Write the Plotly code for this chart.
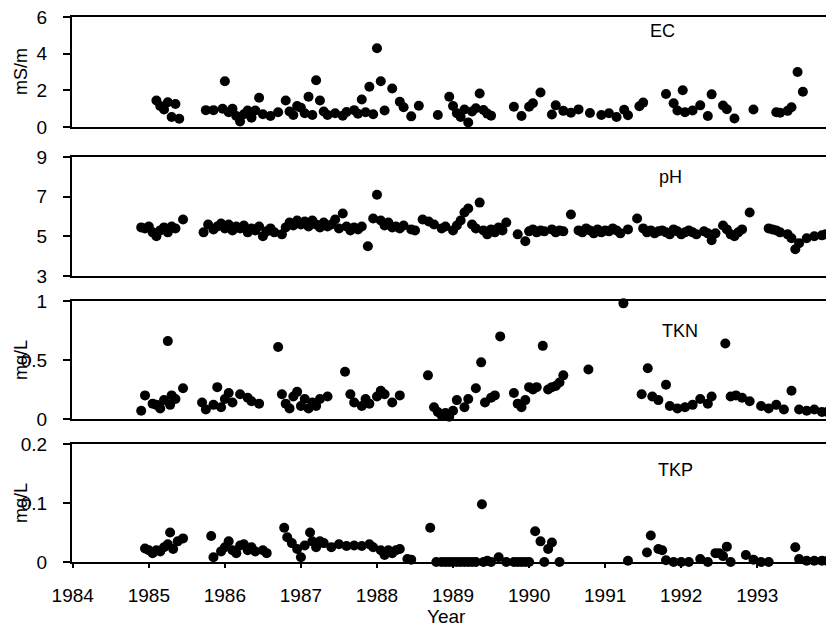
import plotly.graph_objects as go

# ---------------- data ----------------
ec_year = [1985.10, 1985.15, 1985.20, 1985.25, 1985.30, 1985.35, 1985.40,
           1985.75, 1985.85, 1986.00, 1985.97, 1986.05, 1986.10, 1986.15, 1986.20,
           1986.25, 1986.30, 1986.35, 1986.40, 1986.45, 1986.50, 1986.60, 1986.70,
           1986.80, 1986.85, 1986.90, 1986.95, 1987.00, 1987.05, 1987.10, 1987.15,
           1987.20, 1987.25, 1987.30, 1987.35, 1987.45, 1987.55, 1987.60, 1987.70,
           1987.75, 1987.80, 1987.85, 1987.90, 1987.95, 1988.00, 1988.05, 1988.10,
           1988.20, 1988.30, 1988.35, 1988.45, 1988.55, 1988.80, 1988.95, 1989.00,
           1989.05, 1989.10, 1989.15, 1989.20, 1989.25, 1989.30, 1989.35, 1989.40,
           1989.45, 1989.50, 1989.80, 1989.90, 1990.00, 1990.05, 1990.15, 1990.30,
           1990.35, 1990.45, 1990.55, 1990.65, 1990.80, 1990.95, 1991.05, 1991.15,
           1991.25, 1991.30, 1991.45, 1991.50, 1991.80, 1991.90, 1991.95, 1992.02,
           1992.05, 1992.15, 1992.25, 1992.35, 1992.40, 1992.55, 1992.60, 1992.70,
           1992.95, 1993.25, 1993.30, 1993.40, 1993.45, 1993.53, 1993.60]
ec_val = [1.45, 1.15, 0.95, 1.35, 0.55, 1.25, 0.45,
          0.92, 0.92, 2.50, 1.00, 0.80, 1.00, 0.60, 0.30,
          0.70, 0.90, 0.50, 0.90, 1.60, 0.70, 0.60, 0.80,
          1.45, 0.85, 0.65, 1.15, 1.05, 0.75, 1.65, 0.65,
          2.55, 1.45, 0.85, 0.65, 0.75, 0.62, 0.82, 0.92,
          0.72, 1.50, 0.80, 2.20, 0.70, 4.30, 2.50, 0.90,
          2.10, 1.38, 1.08, 0.58, 1.16, 0.65, 1.65, 1.15,
          0.75, 0.55, 0.95, 0.25, 0.85, 1.02, 1.83, 0.93,
          0.73, 0.62, 1.10, 0.60, 1.10, 1.30, 1.88, 0.68,
          1.18, 0.88, 0.78, 0.96, 0.76, 0.65, 0.75, 0.55,
          0.94, 0.64, 1.13, 1.33, 1.80, 1.30, 0.90, 2.00,
          0.80, 0.90, 1.18, 0.60, 1.78, 1.17, 0.97, 0.46,
          0.95, 0.80, 0.78, 0.88, 1.08, 3.00, 1.92]

ph_year = [1984.90, 1984.95, 1985.00, 1985.05, 1985.10, 1985.15, 1985.20, 1985.25,
           1985.30, 1985.35, 1985.45,
           1985.72, 1985.78, 1985.85, 1985.90, 1985.95, 1986.00, 1986.05, 1986.10,
           1986.15, 1986.20, 1986.25, 1986.30, 1986.35, 1986.40, 1986.45, 1986.50,
           1986.55, 1986.60, 1986.65, 1986.75, 1986.80,
           1986.85, 1986.90, 1986.95, 1987.00, 1987.05, 1987.10, 1987.15, 1987.20,
           1987.25, 1987.30, 1987.35, 1987.40, 1987.45, 1987.50, 1987.55, 1987.60,
           1987.65, 1987.70, 1987.75, 1987.80, 1987.88, 1987.95, 1988.00, 1988.05,
           1988.10, 1988.15, 1988.20, 1988.25, 1988.30, 1988.35, 1988.45, 1988.50,
           1988.60, 1988.68, 1988.75, 1988.85, 1988.90, 1989.00, 1989.05, 1989.10,
           1989.15, 1989.20, 1989.25, 1989.30, 1989.35, 1989.40, 1989.45, 1989.50,
           1989.55, 1989.60, 1989.65, 1989.70, 1989.85, 1989.95, 1990.00, 1990.05,
           1990.10, 1990.15, 1990.20, 1990.30, 1990.35, 1990.40, 1990.45, 1990.55,
           1990.65, 1990.70, 1990.75, 1990.80, 1990.85, 1990.90, 1990.95, 1991.00,
           1991.05, 1991.10, 1991.15, 1991.20, 1991.30, 1991.42, 1991.50, 1991.55,
           1991.60, 1991.65, 1991.70, 1991.75, 1991.80, 1991.85, 1991.90, 1991.95,
           1992.00, 1992.05, 1992.10, 1992.15, 1992.20, 1992.30, 1992.35, 1992.40,
           1992.45, 1992.55, 1992.60, 1992.65, 1992.70, 1992.75, 1992.80, 1992.90,
           1993.15, 1993.20, 1993.25, 1993.30, 1993.40, 1993.45, 1993.50, 1993.55,
           1993.65, 1993.75, 1993.85, 1993.90]
ph_val = [5.45, 5.40, 5.50, 5.20, 5.00, 5.30, 5.45, 5.20,
          5.50, 5.40, 5.85,
          5.20, 5.60, 5.35, 5.50, 5.65, 5.40, 5.60, 5.30,
          5.50, 5.40, 5.55, 5.20, 5.40, 5.30, 5.50, 5.00,
          5.25, 5.40, 5.20, 5.10, 5.45,
          5.70, 5.55, 5.80, 5.60, 5.75, 5.50, 5.80, 5.60,
          5.45, 5.70, 5.50, 5.60, 5.85, 5.40, 6.15, 5.50,
          5.30, 5.45, 5.35, 5.50, 4.50, 5.90, 7.10, 5.80,
          5.55, 5.70, 5.45, 5.50, 5.40, 5.55, 5.35, 5.30,
          5.85, 5.75, 5.60, 5.40, 5.50, 5.30, 5.55, 5.80,
          6.20, 6.40, 5.60, 5.40, 6.70, 5.30, 5.10, 5.35,
          5.20, 5.45, 5.30, 5.70, 5.10, 4.75, 5.25, 5.35,
          5.20, 5.30, 5.25, 5.35, 5.20, 5.30, 5.25, 6.10,
          5.30, 5.20, 5.40, 5.30, 5.15, 5.35, 5.20, 5.30,
          5.25, 5.40, 5.30, 5.15, 5.35, 5.90, 5.40, 5.20,
          5.30, 5.15, 5.25, 5.30, 5.20, 5.10, 5.35, 5.25,
          5.10, 5.20, 5.30, 5.20, 5.10, 5.25, 5.15, 4.80,
          5.15, 5.55, 5.35, 5.10, 5.00, 5.20, 5.35, 6.20,
          5.40, 5.35, 5.30, 5.20, 5.10, 4.90, 4.35, 4.65,
          4.90, 5.00, 5.05, 5.10]

tkn_year = [1984.90, 1984.95, 1985.05, 1985.10, 1985.15, 1985.20, 1985.25, 1985.28,
            1985.30, 1985.35, 1985.45,
            1985.70, 1985.75, 1985.85, 1985.90, 1985.95, 1986.00, 1986.05, 1986.10,
            1986.20, 1986.30, 1986.35, 1986.45,
            1986.70, 1986.75, 1986.80, 1986.85, 1986.90, 1986.95, 1987.00, 1987.05,
            1987.10, 1987.15, 1987.20, 1987.25, 1987.35, 1987.58,
            1987.65, 1987.70, 1987.80, 1987.85, 1987.90, 1988.00, 1988.05, 1988.10,
            1988.20, 1988.30, 1988.67,
            1988.75, 1988.80, 1988.85, 1988.90, 1988.95, 1989.00, 1989.05,
            1989.15, 1989.20, 1989.30, 1989.37, 1989.42, 1989.50, 1989.55, 1989.62,
            1989.80, 1989.85, 1989.90, 1989.95, 1990.00, 1990.05, 1990.10, 1990.18,
            1990.25, 1990.30, 1990.35, 1990.40, 1990.45, 1990.78,
            1991.24, 1991.48, 1991.56, 1991.62, 1991.70, 1991.80, 1991.85, 1991.95,
            1992.05, 1992.15, 1992.25, 1992.35, 1992.40, 1992.58,
            1992.65, 1992.72, 1992.80, 1992.90, 1993.05, 1993.15, 1993.25, 1993.35,
            1993.45, 1993.55, 1993.65, 1993.75, 1993.85, 1993.92]
tkn_val = [0.07, 0.20, 0.13, 0.12, 0.09, 0.16, 0.66, 0.12,
           0.20, 0.17, 0.26,
           0.14, 0.08, 0.12, 0.27, 0.10, 0.17, 0.22, 0.14,
           0.21, 0.18, 0.15, 0.13,
           0.61, 0.21, 0.13, 0.09, 0.19, 0.23, 0.11, 0.17,
           0.09, 0.14, 0.11, 0.17, 0.19, 0.40,
           0.21, 0.14, 0.11, 0.17, 0.13, 0.19, 0.24, 0.21,
           0.14, 0.20, 0.37,
           0.10, 0.06, 0.03, 0.05, 0.02, 0.07, 0.16,
           0.10, 0.17, 0.26, 0.48, 0.14, 0.18, 0.20, 0.70,
           0.22, 0.13, 0.10, 0.16, 0.27, 0.25, 0.27, 0.62,
           0.25, 0.27, 0.28, 0.31, 0.37, 0.42,
           0.98, 0.21, 0.43, 0.19, 0.16, 0.29, 0.11, 0.09,
           0.10, 0.12, 0.17, 0.13, 0.19, 0.64,
           0.19, 0.20, 0.18, 0.15, 0.11, 0.09, 0.12, 0.08,
           0.24, 0.08, 0.07, 0.08, 0.06, 0.06]

tkp_year = [1984.95, 1985.00, 1985.05, 1985.10, 1985.15, 1985.20, 1985.25, 1985.28,
            1985.32, 1985.38, 1985.45, 1985.82, 1985.85, 1985.95, 1986.00, 1986.05,
            1986.10, 1986.15, 1986.20, 1986.25, 1986.30, 1986.35, 1986.40, 1986.50,
            1986.55, 1986.78, 1986.82, 1986.88, 1986.95, 1987.00, 1987.05, 1987.12,
            1987.15, 1987.20, 1987.25, 1987.30, 1987.40, 1987.50, 1987.60, 1987.70,
            1987.80, 1987.90, 1987.95, 1988.05, 1988.10, 1988.15, 1988.20, 1988.25,
            1988.30, 1988.40, 1988.45, 1988.70, 1988.78, 1988.85, 1988.90, 1988.95,
            1989.00, 1989.05, 1989.10, 1989.15, 1989.20, 1989.25, 1989.30, 1989.38,
            1989.40, 1989.45, 1989.50, 1989.60, 1989.70, 1989.80, 1989.85, 1989.90,
            1989.95, 1990.00, 1990.08, 1990.15, 1990.20, 1990.25, 1990.30, 1990.40,
            1991.30, 1991.55, 1991.60, 1991.70, 1991.75, 1991.80, 1991.90, 1992.00,
            1992.10, 1992.25, 1992.35, 1992.45, 1992.50, 1992.55, 1992.60, 1992.65,
            1992.85, 1992.95, 1993.05, 1993.15, 1993.50, 1993.55, 1993.65, 1993.75,
            1993.85, 1993.92]
tkp_val = [0.023, 0.020, 0.015, 0.020, 0.018, 0.025, 0.030, 0.050,
           0.022, 0.035, 0.040, 0.044, 0.008, 0.018, 0.025, 0.035,
           0.020, 0.015, 0.028, 0.030, 0.020, 0.025, 0.018, 0.020,
           0.015, 0.058, 0.042, 0.032, 0.022, 0.008, 0.028, 0.050,
           0.035, 0.025, 0.035, 0.032, 0.025, 0.030, 0.027, 0.028,
           0.027, 0.030, 0.025, 0.020, 0.012, 0.020, 0.015, 0.020,
           0.022, 0.005, 0.004, 0.058, 0.000, 0.000, 0.000, 0.000,
           0.000, 0.000, 0.000, 0.000, 0.000, 0.000, 0.000, 0.098,
           0.000, 0.002, 0.000, 0.008, 0.000, 0.000, 0.000, 0.000,
           0.000, 0.000, 0.052, 0.035, 0.000, 0.022, 0.033, 0.000,
           0.002, 0.016, 0.045, 0.022, 0.020, 0.003, 0.000, 0.000,
           0.000, 0.005, 0.000, 0.015, 0.015, 0.010, 0.026, 0.000,
           0.012, 0.004, 0.000, 0.000, 0.025, 0.005, 0.002, 0.002,
           0.002, 0.002]

panel_names = ["EC", "pH", "TKN", "TKP"]
unit_labels = ["mS/m", "", "mg/L", "mg/L"]
y_ranges = [[0, 6], [3, 9], [0, 1], [0, 0.2]]
y_ticks = [[0, 2, 4, 6], [3, 5, 7, 9], [0, 0.5, 1], [0, 0.1, 0.2]]
y_ticktext = [["0", "2", "4", "6"], ["3", "5", "7", "9"], ["0", "0.5", "1"], ["0", "0.1", "0.2"]]
year_ticks = [1984, 1985, 1986, 1987, 1988, 1989, 1990, 1991, 1992, 1993]
x_range = [1983.99, 1993.93]

# ---------------- layout geometry (screen px; page body has an 8px margin) ----------------
OFF = 8
W, H = 834 - OFF, 627 - OFF
L_SCR, R_SCR, T_SCR, B_SCR = 72, 828, 17, 562
ML, MR, MT, MB = L_SCR - OFF, W - (R_SCR - OFF), T_SCR - OFF, H - (B_SCR - OFF)
plot_h = H - MT - MB
plot_w = W - ML - MR
panel_px = [(17, 127), (157, 276), (301, 419), (444, 562)]  # top, bottom (screen px)
label_px = [(662, 31), (670, 177), (680, 331), (675, 470)]


def py(pix):
    return (B_SCR - pix) / plot_h


def px(pix):
    return (pix - L_SCR) / plot_w


FONT = "Liberation Sans, Arial, Helvetica, sans-serif"

series = [(ec_year, ec_val), (ph_year, ph_val), (tkn_year, tkn_val), (tkp_year, tkp_val)]

fig = go.Figure()
layout = dict(
    width=W, height=H,
    margin=dict(l=ML, r=MR, t=MT, b=MB, autoexpand=False),
    paper_bgcolor="white", plot_bgcolor="white",
    showlegend=False,
    font=dict(family=FONT, color="black", size=18),
)
annotations = []

for i, (xs, ys) in enumerate(series):
    n = i + 1
    xa = "x" if n == 1 else f"x{n}"
    ya = "y" if n == 1 else f"y{n}"
    fig.add_trace(go.Scatter(
        x=xs, y=ys, mode="markers", xaxis=xa, yaxis=ya,
        marker=dict(color="black", size=10, line=dict(width=0)),
        cliponaxis=False, hoverinfo="skip",
    ))
    top, bot = panel_px[i]
    last = (i == 3)
    layout["xaxis" if n == 1 else f"xaxis{n}"] = dict(
        domain=[0, 1], range=x_range, anchor=ya,
        showline=True, linecolor="black", linewidth=2, mirror=True,
        showgrid=False, zeroline=False,
        tickmode="array", tickvals=year_ticks if last else [],
        ticktext=[str(v) for v in year_ticks] if last else [],
        ticks="outside" if last else "", ticklen=4, tickwidth=1.5, tickcolor="black",
        showticklabels=last, ticklabelstandoff=11,
        tickfont=dict(family=FONT, size=19, color="black"),
    )
    layout["yaxis" if n == 1 else f"yaxis{n}"] = dict(
        domain=[py(bot), py(top)], range=y_ranges[i], anchor=xa,
        showline=True, linecolor="black", linewidth=2, mirror=True,
        showgrid=False, zeroline=False,
        tickmode="array", tickvals=y_ticks[i], ticktext=y_ticktext[i],
        ticks="outside", ticklen=7, tickwidth=1.5, tickcolor="black",
        ticklabelstandoff=12, ticklabeloverflow="allow",
        tickfont=dict(family=FONT, size=19, color="black"),
    )
    lx, ly = label_px[i]
    annotations.append(dict(
        text=panel_names[i], x=px(lx), y=py(ly), xref="paper", yref="paper",
        showarrow=False, xanchor="center", yanchor="middle",
        font=dict(family=FONT, size=18, color="black"),
    ))
    if unit_labels[i]:
        annotations.append(dict(
            text=unit_labels[i], x=px(21), y=py((top + bot) / 2),
            xref="paper", yref="paper", showarrow=False, textangle=-90,
            xanchor="center", yanchor="middle",
            font=dict(family=FONT, size=18, color="black"),
        ))

annotations.append(dict(
    text="Year", x=px(446), y=py(616), xref="paper", yref="paper",
    showarrow=False, xanchor="center", yanchor="middle",
    font=dict(family=FONT, size=19, color="black"),
))
layout["annotations"] = annotations
fig.update_layout(**layout)
fig.write_html("out.html")
